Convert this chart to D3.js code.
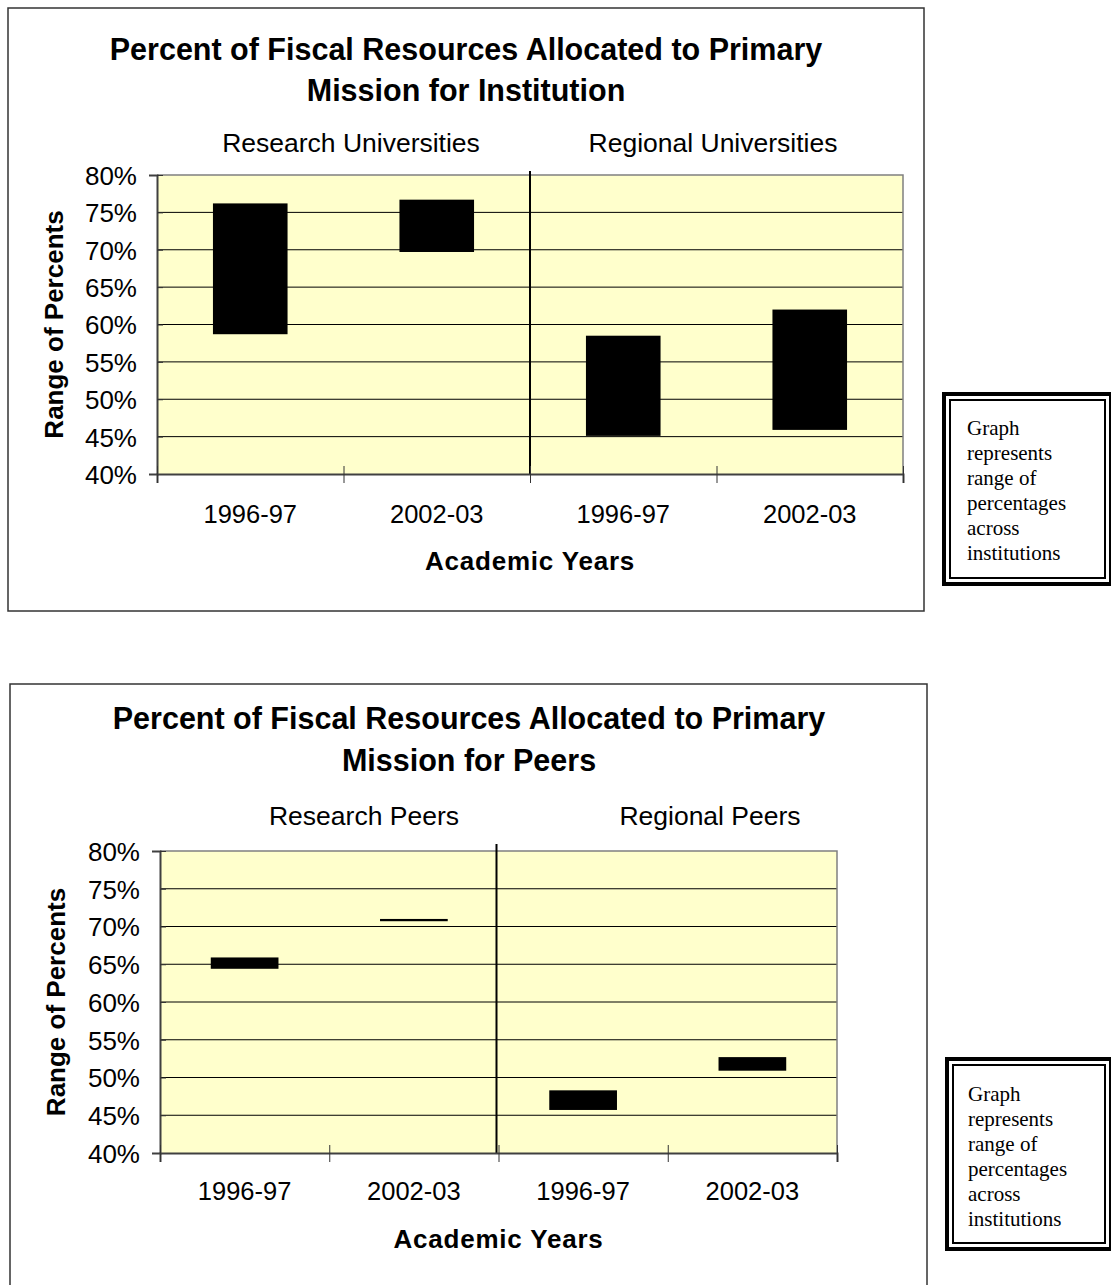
<!DOCTYPE html>
<html>
<head>
<meta charset="utf-8">
<script src="https://cdn.jsdelivr.net/npm/d3@7"></script>
<style>
  body { margin: 0; background: #fff; }
  text { font-family: "Liberation Sans", Arial, sans-serif; fill: #000; }
  .note text { font-family: "Liberation Serif", "Times New Roman", serif; }
</style>
</head>
<body>
<script>
// Chart values
var categories = ["1996-97", "2002-03", "1996-97", "2002-03"];
var institutionGroups = ["Research Universities", "Regional Universities"];
var peerGroups = ["Research Peers", "Regional Peers"];
var institutionLow = [58.7, 69.7, 45.1, 45.9];
var institutionHigh = [76.2, 76.7, 58.5, 62.0];
var peerLow = [64.4, 70.7, 45.7, 50.9];
var peerHigh = [65.9, 71.0, 48.3, 52.7];
var yTicks = [40, 45, 50, 55, 60, 65, 70, 75, 80];
var noteLines = ["Graph", "represents", "range of", "percentages", "across", "institutions"];

var svg = d3.select("body")
  .append("svg")
  .attr("width", 1111)
  .attr("height", 1285);

function drawChart(cfg) {
  var g = svg.append("g");

  // outer chart frame
  g.append("rect")
    .attr("x", cfg.frame.x).attr("y", cfg.frame.y)
    .attr("width", cfg.frame.w).attr("height", cfg.frame.h)
    .attr("fill", "none").attr("stroke", "#333").attr("stroke-width", 1.5);

  // title
  cfg.title.forEach(function(t, i) {
    g.append("text")
      .attr("x", cfg.titleX).attr("y", cfg.titleY[i])
      .attr("text-anchor", "middle")
      .style("font-size", "30.5px").style("font-weight", "bold")
      .text(t);
  });

  // group labels
  cfg.groups.forEach(function(t, i) {
    g.append("text")
      .attr("x", cfg.groupX[i]).attr("y", cfg.groupY)
      .attr("text-anchor", "middle")
      .style("font-size", "26.5px")
      .text(t);
  });

  var p = cfg.plot;
  var width = p.right - p.left;
  var height = p.bottom - p.top;

  var x = d3.scaleBand()
    .domain(d3.range(categories.length))
    .range([0, width])
    .paddingInner(0.6)
    .paddingOuter(0.3);

  var xEdge = d3.scaleLinear()
    .domain([0, categories.length])
    .range([0, width]);

  var y = d3.scaleLinear()
    .domain([40, 80])
    .range([height, 0]);

  var plot = g.append("g")
    .attr("transform", `translate(${p.left}, ${p.top})`);

  plot.append("rect")
    .attr("width", width).attr("height", height)
    .attr("fill", "#ffffcc");

  // gridlines
  plot.selectAll(".grid")
    .data(yTicks.filter(d => d > 40 && d < 80))
    .enter().append("line")
    .attr("x1", 0).attr("x2", width)
    .attr("y1", d => y(d)).attr("y2", d => y(d))
    .attr("stroke", "#000").attr("stroke-width", 1);

  // top and right border
  plot.append("path")
    .attr("d", `M0,${y(80)}H${width}V${height}`)
    .attr("fill", "none").attr("stroke", "#808080").attr("stroke-width", 1.5);

  // range bars
  plot.selectAll(".bar")
    .data(cfg.low)
    .enter().append("rect")
    .attr("x", (d, i) => x(i))
    .attr("width", x.bandwidth())
    .attr("y", (d, i) => y(cfg.high[i]))
    .attr("height", (d, i) => y(d) - y(cfg.high[i]))
    .attr("fill", "#000");

  // separator between research and regional
  plot.append("line")
    .attr("x1", xEdge(2) + cfg.sepShift).attr("x2", xEdge(2) + cfg.sepShift)
    .attr("y1", cfg.sepTop - p.top).attr("y2", height)
    .attr("stroke", "#000").attr("stroke-width", 2);

  // y axis
  var leftAxis = d3.axisLeft(y)
    .tickValues(yTicks)
    .tickSize(8)
    .tickPadding(12)
    .tickFormat(d => d + "%");

  var yAxis = plot.append("g").call(leftAxis);
  yAxis.select(".domain").attr("stroke", "#404040").attr("stroke-width", 2);
  yAxis.selectAll(".tick line").attr("x2", 6).attr("stroke", "#333");
  yAxis.selectAll(".tick text")
    .style("font-size", "26px")
    .style("font-family", "'Liberation Sans', Arial, sans-serif")
    .attr("dy", "0.36em");

  // x axis (tick marks at category edges)
  var bottomAxis = d3.axisBottom(xEdge)
    .tickValues(d3.range(categories.length + 1))
    .tickSize(9)
    .tickFormat("");

  var xAxis = plot.append("g")
    .attr("transform", `translate(0, ${height})`)
    .call(bottomAxis);
  xAxis.select(".domain").attr("stroke", "#404040").attr("stroke-width", 2);
  xAxis.selectAll(".tick line").attr("y1", -8).attr("stroke", "#333");

  // category labels
  plot.selectAll(".cat")
    .data(categories)
    .enter().append("text")
    .attr("x", (d, i) => x(i) + x.bandwidth() / 2)
    .attr("y", cfg.tickLabelY - p.top)
    .attr("text-anchor", "middle")
    .style("font-size", "25.5px")
    .text(d => d);

  // axis titles
  g.append("text")
    .attr("x", p.left + width / 2).attr("y", cfg.axisTitleY)
    .attr("text-anchor", "middle")
    .style("font-size", "26px").style("font-weight", "bold")
    .style("letter-spacing", "0.8px")
    .text("Academic Years");

  g.append("text")
    .attr("transform", `translate(${cfg.yLabelX}, ${p.top + height / 2}) rotate(-90)`)
    .attr("text-anchor", "middle")
    .style("font-size", "26px").style("font-weight", "bold")
    .text("Range of Percents");

  // note box with double border
  var n = cfg.note;
  var note = svg.append("g").attr("class", "note");
  note.append("rect")
    .attr("x", n.x + 2).attr("y", n.y + 2)
    .attr("width", n.w - 4).attr("height", n.h - 4)
    .attr("fill", "#fff").attr("stroke", "#000").attr("stroke-width", 4);
  note.append("rect")
    .attr("x", n.x + 8).attr("y", n.y + 8)
    .attr("width", n.w - 16).attr("height", n.h - 16)
    .attr("fill", "none").attr("stroke", "#000").attr("stroke-width", 2);
  noteLines.forEach(function(t, i) {
    note.append("text")
      .attr("x", n.textX).attr("y", n.textY + i * 25)
      .style("font-size", "21px")
      .text(t);
  });
}

drawChart({
  frame: { x: 8, y: 8, w: 916, h: 603 },
  title: ["Percent of Fiscal Resources Allocated to Primary", "Mission for Institution"],
  titleX: 466, titleY: [60, 101],
  groups: institutionGroups, groupX: [351, 713], groupY: 152,
  plot: { left: 157, top: 175, right: 903, bottom: 474 },
  low: institutionLow, high: institutionHigh,
  sepTop: 171, sepShift: 0,
  tickLabelY: 523, axisTitleY: 570, yLabelX: 63,
  note: { x: 942, y: 392, w: 171, h: 194, textX: 967, textY: 435 }
});

drawChart({
  frame: { x: 10, y: 684, w: 917, h: 620 },
  title: ["Percent of Fiscal Resources Allocated to Primary", "Mission for Peers"],
  titleX: 469, titleY: [729, 771],
  groups: peerGroups, groupX: [364, 710], groupY: 825,
  plot: { left: 160, top: 851, right: 837, bottom: 1153 },
  low: peerLow, high: peerHigh,
  sepTop: 844, sepShift: -2,
  tickLabelY: 1200, axisTitleY: 1248, yLabelX: 65,
  note: { x: 945, y: 1057, w: 168, h: 194, textX: 968, textY: 1101 }
});
</script>
</body>
</html>
